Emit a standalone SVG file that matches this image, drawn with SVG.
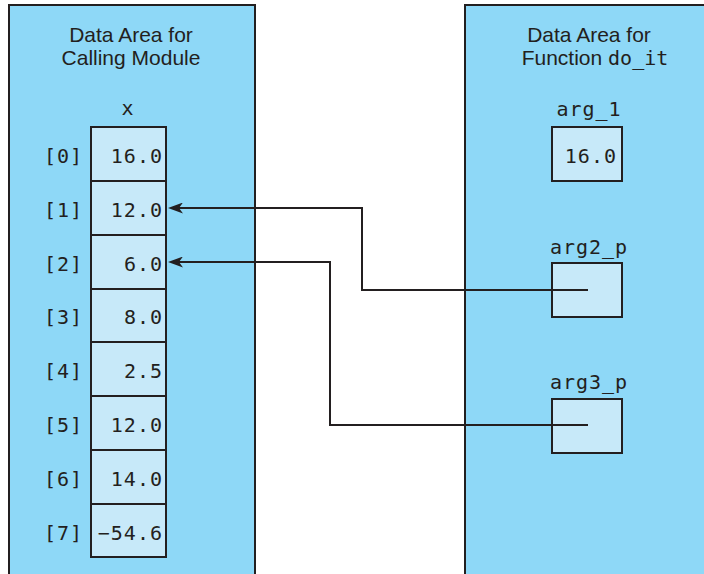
<svg xmlns="http://www.w3.org/2000/svg" width="704" height="574" viewBox="0 0 704 574">
<style>
.panel{fill:#8ed8f7;stroke:#231f20;stroke-width:2}
.cell{fill:#c7e9f9;stroke:#231f20;stroke-width:2}
.title{font-family:"Liberation Sans",Arial,sans-serif;font-size:21px;fill:#231f20;text-anchor:middle}
.mono{font-family:"DejaVu Sans Mono","Liberation Mono",monospace;font-size:20px;fill:#231f20;letter-spacing:1px}
.val{text-anchor:end}
.lbl{text-anchor:middle}
.conn{fill:none;stroke:#231f20;stroke-width:2}
</style>
<defs>
<marker id="arr" viewBox="0 0 15 11" refX="12" refY="5.5" markerWidth="15" markerHeight="11" markerUnits="userSpaceOnUse" orient="auto">
<path d="M0,0 L15,5.5 L0,11 L4,5.5 Z" fill="#231f20"/>
</marker>
</defs>
<rect width="704" height="574" fill="#ffffff"/>
<g id="calling-module">
<rect class="panel" x="9" y="5" width="246" height="580"/>
<text class="title" x="131" y="42">Data Area for</text>
<text class="title" x="131" y="65">Calling Module</text>
<text class="mono lbl" x="128" y="115">x</text>
</g>
<g id="x0"><rect class="cell" x="91" y="127" width="75" height="54"/><text class="mono val" x="163" y="163">16.0</text><text class="mono val" x="83" y="163">[0]</text></g>
<g id="x1"><rect class="cell" x="91" y="181" width="75" height="54"/><text class="mono val" x="163" y="217">12.0</text><text class="mono val" x="83" y="217">[1]</text></g>
<g id="x2"><rect class="cell" x="91" y="235" width="75" height="54"/><text class="mono val" x="163" y="271">6.0</text><text class="mono val" x="83" y="271">[2]</text></g>
<g id="x3"><rect class="cell" x="91" y="289" width="75" height="53"/><text class="mono val" x="163" y="324">8.0</text><text class="mono val" x="83" y="324">[3]</text></g>
<g id="x4"><rect class="cell" x="91" y="342" width="75" height="54"/><text class="mono val" x="163" y="378">2.5</text><text class="mono val" x="83" y="378">[4]</text></g>
<g id="x5"><rect class="cell" x="91" y="396" width="75" height="54"/><text class="mono val" x="163" y="432">12.0</text><text class="mono val" x="83" y="432">[5]</text></g>
<g id="x6"><rect class="cell" x="91" y="450" width="75" height="54"/><text class="mono val" x="163" y="486">14.0</text><text class="mono val" x="83" y="486">[6]</text></g>
<g id="x7"><rect class="cell" x="91" y="504" width="75" height="53"/><text class="mono val" x="163" y="540">−54.6</text><text class="mono val" x="83" y="540">[7]</text></g>
<g id="function-do_it">
<rect class="panel" x="465" y="5" width="250" height="580"/>
<text class="title" x="589" y="42">Data Area for</text>
<text class="title" x="595" y="65">Function <tspan font-family="DejaVu Sans Mono, Liberation Mono, monospace" font-size="20">do_it</tspan></text>
</g>
<g id="arg_1"><text class="mono lbl" x="589" y="116">arg_1</text><rect class="cell" x="552" y="127" width="70" height="54"/><text class="mono val" x="617" y="163">16.0</text></g>
<g id="arg2_p"><text class="mono lbl" x="589" y="254">arg2_p</text><rect class="cell" x="552" y="263" width="70" height="54"/></g>
<g id="arg3_p"><text class="mono lbl" x="589" y="389">arg3_p</text><rect class="cell" x="552" y="399" width="70" height="54"/></g>
<g id="connectors">
<path class="conn" d="M588,290 H362 V208 H171" marker-end="url(#arr)"/>
<path class="conn" d="M588,425 H330 V262 H171" marker-end="url(#arr)"/>
</g>
</svg>
